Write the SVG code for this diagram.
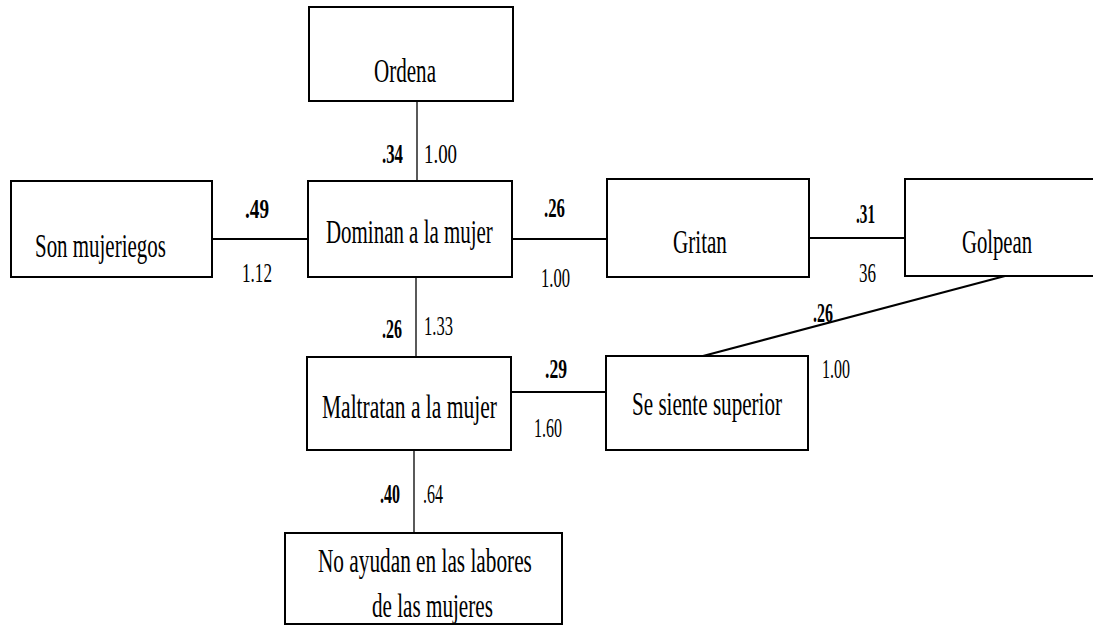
<svg xmlns="http://www.w3.org/2000/svg" width="1093" height="626" viewBox="0 0 1093 626">
<style>
.box{fill:#fff;stroke:#000;stroke-width:2}
.node{font-family:"Liberation Serif","Times New Roman",serif;font-size:33px;fill:#000}
.lbl{font-family:"Liberation Serif","Times New Roman",serif;font-size:28px;fill:#000}
.b{font-weight:bold}
.ln{stroke:#000;fill:none}
</style>
<rect width="1093" height="626" fill="#fff"/>
<g id="connectors">
<line class="ln" x1="417" y1="101" x2="417" y2="181" stroke-width="1.3"/>
<line class="ln" x1="212" y1="239" x2="308" y2="239" stroke-width="2"/>
<line class="ln" x1="512" y1="239" x2="607" y2="239" stroke-width="2"/>
<line class="ln" x1="809" y1="238" x2="905" y2="238" stroke-width="2"/>
<line class="ln" x1="416" y1="277" x2="416" y2="357" stroke-width="1.3"/>
<line class="ln" x1="511" y1="392" x2="606" y2="392" stroke-width="2"/>
<line class="ln" x1="703" y1="356" x2="1005" y2="276" stroke-width="2"/>
<line class="ln" x1="414" y1="450" x2="414" y2="533" stroke-width="1.3"/>
<text class="lbl b" x="382" y="163" textLength="21" lengthAdjust="spacingAndGlyphs">.34</text>
<text class="lbl" x="424" y="163" textLength="33" lengthAdjust="spacingAndGlyphs">1.00</text>
<text class="lbl b" x="245" y="218" textLength="24" lengthAdjust="spacingAndGlyphs">.49</text>
<text class="lbl" x="242" y="282" textLength="30" lengthAdjust="spacingAndGlyphs">1.12</text>
<text class="lbl b" x="544" y="217" textLength="21" lengthAdjust="spacingAndGlyphs">.26</text>
<text class="lbl" x="541" y="287" textLength="29" lengthAdjust="spacingAndGlyphs">1.00</text>
<text class="lbl b" x="856" y="223" textLength="19" lengthAdjust="spacingAndGlyphs">.31</text>
<text class="lbl" x="859" y="282" textLength="17" lengthAdjust="spacingAndGlyphs">36</text>
<text class="lbl b" x="813" y="322" textLength="20" lengthAdjust="spacingAndGlyphs">.26</text>
<text class="lbl" x="822" y="378" textLength="28" lengthAdjust="spacingAndGlyphs">1.00</text>
<text class="lbl b" x="382" y="338" textLength="20" lengthAdjust="spacingAndGlyphs">.26</text>
<text class="lbl" x="424" y="335" textLength="29" lengthAdjust="spacingAndGlyphs">1.33</text>
<text class="lbl b" x="545" y="378" textLength="22" lengthAdjust="spacingAndGlyphs">.29</text>
<text class="lbl" x="534" y="437" textLength="28" lengthAdjust="spacingAndGlyphs">1.60</text>
<text class="lbl b" x="380" y="503" textLength="20" lengthAdjust="spacingAndGlyphs">.40</text>
<text class="lbl" x="423" y="503" textLength="20" lengthAdjust="spacingAndGlyphs">.64</text>
</g>
<g id="ordena">
<rect class="box" x="309" y="7" width="204" height="94"/>
<text class="node" transform="translate(374,82) scale(0.62,1)" textLength="100" lengthAdjust="spacingAndGlyphs">Ordena</text>
</g>
<g id="son-mujeriegos">
<rect class="box" x="11" y="181" width="201" height="96"/>
<text class="node" transform="translate(35,257) scale(0.62,1)" textLength="211" lengthAdjust="spacingAndGlyphs">Son mujeriegos</text>
</g>
<g id="dominan">
<rect class="box" x="308" y="181" width="204" height="96"/>
<text class="node" transform="translate(326,243) scale(0.62,1)" textLength="269" lengthAdjust="spacingAndGlyphs">Dominan a la mujer</text>
</g>
<g id="gritan">
<rect class="box" x="607" y="179" width="202" height="98"/>
<text class="node" transform="translate(673,253) scale(0.62,1)" textLength="87" lengthAdjust="spacingAndGlyphs">Gritan</text>
</g>
<g id="golpean">
<rect class="box" x="905" y="179" width="200" height="97"/>
<text class="node" transform="translate(962,253) scale(0.62,1)" textLength="113" lengthAdjust="spacingAndGlyphs">Golpean</text>
</g>
<g id="maltratan">
<rect class="box" x="307" y="357" width="204" height="93"/>
<text class="node" transform="translate(322,418) scale(0.62,1)" textLength="282" lengthAdjust="spacingAndGlyphs">Maltratan a la mujer</text>
</g>
<g id="se-siente">
<rect class="box" x="606" y="356" width="202" height="94"/>
<text class="node" transform="translate(632,415) scale(0.62,1)" textLength="242" lengthAdjust="spacingAndGlyphs">Se siente superior</text>
</g>
<g id="no-ayudan">
<rect class="box" x="285" y="533" width="277" height="91"/>
<text class="node" transform="translate(318,572) scale(0.62,1)" textLength="345" lengthAdjust="spacingAndGlyphs">No ayudan en las labores</text>
<text class="node" transform="translate(372,617) scale(0.62,1)" textLength="195" lengthAdjust="spacingAndGlyphs">de las mujeres</text>
</g>
</svg>
